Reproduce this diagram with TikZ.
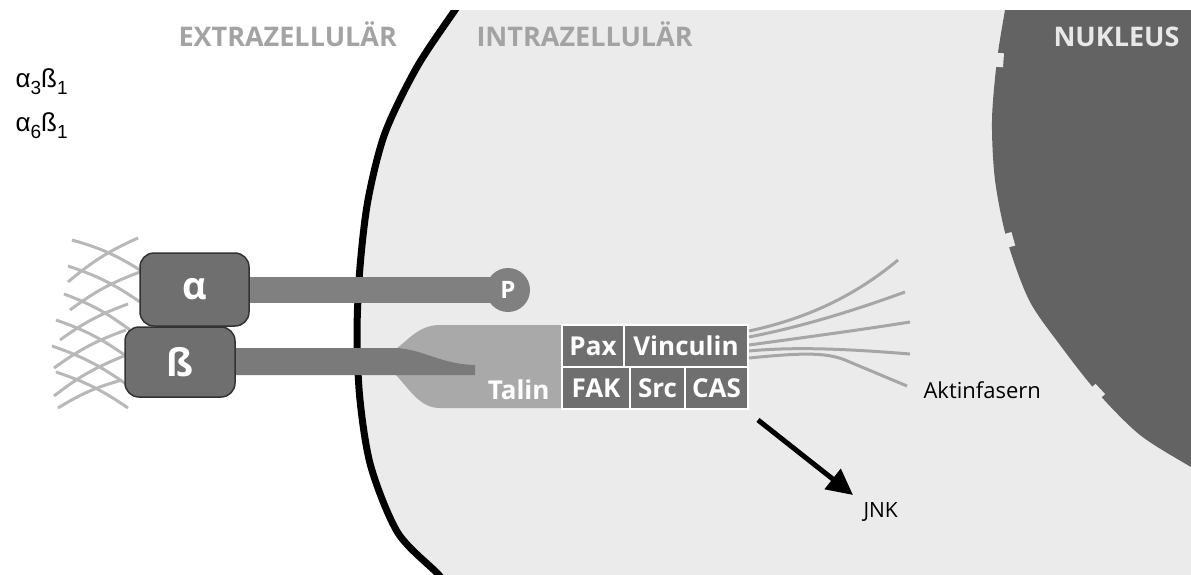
\documentclass[tikz,border=0pt]{standalone}
\usepackage{fontspec}
\setmainfont{Open Sans}
\newfontfamily\arialfont{Liberation Sans}
\usetikzlibrary{arrows.meta}
\definecolor{cellgray}{HTML}{EBEBEB}
\definecolor{nucgray}{HTML}{636363}
\definecolor{headgray}{HTML}{A3A3A3}
\definecolor{nuctext}{HTML}{E8E8E8}
\definecolor{boxgray}{HTML}{6F6F6F}
\definecolor{bargray}{HTML}{808080}
\definecolor{talingray}{HTML}{A9A9A9}
\definecolor{fibergray}{HTML}{A6A6A6}
\definecolor{ecmgray}{HTML}{B8B8B8}
\definecolor{edgegray}{HTML}{333333}
\begin{document}
\begin{tikzpicture}[x=1pt,y=-1pt,
  header/.style={anchor=base west, font=\bfseries\fontsize{27}{30}\selectfont},
  subunit/.style={draw=edgegray, line width=1.5pt, fill=boxgray, rounded corners=14pt,
    inner sep=0pt, text=white, font=\bfseries\fontsize{38}{40}\selectfont},
  protein/.style={draw=white, line width=2pt, fill=boxgray, inner sep=0pt,
    minimum height=42pt, text=white, font=\bfseries\fontsize{26}{28}\selectfont},
  ecm/.style={draw=ecmgray, line width=3pt},
  fiber/.style={draw=fibergray, line width=3pt},
  pore/.style={fill=cellgray, inner sep=0pt, minimum width=14pt, minimum height=9pt},
  plain/.style={anchor=base west, font=\fontsize{22}{26}\selectfont}
]
\useasboundingbox (0,0) rectangle (1191,574);

% cytoplasm, nucleus and plasma membrane
\begin{scope}
  \clip (0,10) rectangle (1191,574);
  \fill[cellgray] plot[smooth] coordinates {(462,0) (455,10) (417,67) (385,133) (368,200)
      (360,267) (357,333) (360,400) (371,467) (398,533) (438,574) (450,590)}
    -- (1191,590) -- (1191,0) -- cycle;
  \fill[nucgray] plot[smooth] coordinates {(1007,0) (1005,10) (997,60) (992,120) (995,180)
      (1007,240) (1029,300) (1060,345) (1097,392) (1140,435) (1191,467) (1215,480)}
    -- (1215,0) -- cycle;
  \node[pore, rotate=-94] (pore1) at (999,60) {};
  \node[pore, rotate=-74] (pore2) at (1009,240) {};
  \node[pore, rotate=-47] (pore3) at (1097,392) {};
  \draw[line width=7pt] plot[smooth] coordinates {(462,0) (455,10) (417,67) (385,133) (368,200)
      (360,267) (357,333) (360,400) (371,467) (398,533) (438,574) (450,590)};
\end{scope}

% compartment headings
\node[header, text=headgray] (extra) at (175,46) {EXTRAZELLULÄR};
\node[header, text=headgray] (intra) at (473,46) {INTRAZELLULÄR};
\node[header, text=nuctext] (nuc) at (1050,46) {NUKLEUS};

% integrin pairs
\node[anchor=base west, font=\arialfont\fontsize{26}{28}\selectfont] (pair1) at (12,87)
  {α\raisebox{-0.3em}{\fontsize{19}{19}\selectfont 3}ß\raisebox{-0.3em}{\fontsize{19}{19}\selectfont 1}};
\node[anchor=base west, font=\arialfont\fontsize{26}{28}\selectfont] (pair2) at (12,131)
  {α\raisebox{-0.3em}{\fontsize{19}{19}\selectfont 6}ß\raisebox{-0.3em}{\fontsize{19}{19}\selectfont 1}};

% extracellular matrix meshwork
\draw[ecm] (72,240) to[bend left=8] (140,270);
\draw[ecm] (68,266) to[bend left=8] (140,302);
\draw[ecm] (64,294) to[bend left=8] (130,330);
\draw[ecm] (56,320) to[bend left=8] (126,356);
\draw[ecm] (52,346) to[bend left=8] (126,384);
\draw[ecm] (56,372) to[bend left=8] (128,408);
\draw[ecm] (68,282) to[bend left=8] (138,238);
\draw[ecm] (70,310) to[bend left=8] (140,272);
\draw[ecm] (60,340) to[bend left=8] (128,304);
\draw[ecm] (54,368) to[bend left=8] (126,330);
\draw[ecm] (54,396) to[bend left=8] (124,356);
\draw[ecm] (58,408) to[bend left=8] (122,380);

% talin head
\fill[talingray] (562,325) -- (440,325) .. controls (420,325) and (410,338) .. (396,349)
  -- (396,375) .. controls (410,390) and (420,408) .. (440,408) -- (562,408) -- cycle;

% integrin tails
\fill[bargray] (240,277) rectangle (508,303);
\node[circle, fill=bargray, minimum size=44pt, inner sep=0pt, text=white,
  font=\bfseries\fontsize{24}{26}\selectfont] (p) at (508,290) {P};
\fill[bargray!95!black] (228,348) -- (397,348) .. controls (425,350) and (440,364) .. (475,365)
  -- (475,375) -- (228,375) -- cycle;

% integrin subunits
\node[subunit, minimum width=109pt, minimum height=73pt] (alpha) at (194.5,289.5) {α};
\node[subunit, minimum width=110pt, minimum height=70pt] (beta) at (180,362) {ß};
\node[anchor=base east, text=white, font=\bfseries\fontsize{26}{28}\selectfont] (talin) at (553,399) {Talin};

% focal adhesion proteins
\node[protein, minimum width=62pt] (pax) at (593,346) {Pax};
\node[protein, minimum width=124pt] (vinc) at (686,346) {Vinculin};
\node[protein, minimum width=68pt] (fak) at (596,388) {FAK};
\node[protein, minimum width=55pt] (src) at (657.5,388) {Src};
\node[protein, minimum width=63pt] (cas) at (716.5,388) {CAS};

% actin fibres
\coordinate (f1) at (898,260);
\coordinate (f2) at (905,292);
\coordinate (f3) at (910,322);
\coordinate (f4) at (910,354);
\coordinate (f5) at (907,386);
\draw[fiber] ([yshift=15pt]vinc.east) .. controls (800,320) and (850,300) .. (f1);
\draw[fiber] ([yshift=9pt]vinc.east) .. controls (800,327) and (850,312) .. (f2);
\draw[fiber] ([yshift=1pt]vinc.east) .. controls (800,338) and (860,330) .. (f3);
\draw[fiber] ([yshift=-5pt]vinc.east) .. controls (800,346) and (860,350) .. (f4);
\draw[fiber] ([yshift=-12pt]vinc.east) .. controls (800,353) and (825,352) .. (845,360) -- (f5);
\node[plain] (aktin) at (920,398) {Aktinfasern};

% signalling to JNK
\coordinate (sig) at (758,420);
\coordinate (tip) at (853,495);
\draw[line width=5pt, -{Triangle[length=26pt,width=25pt]}] (sig) -- (tip);
\node[plain, font=\fontsize{21}{24}\selectfont] (jnk) at (860,517) {JNK};
\end{tikzpicture}
\end{document}
